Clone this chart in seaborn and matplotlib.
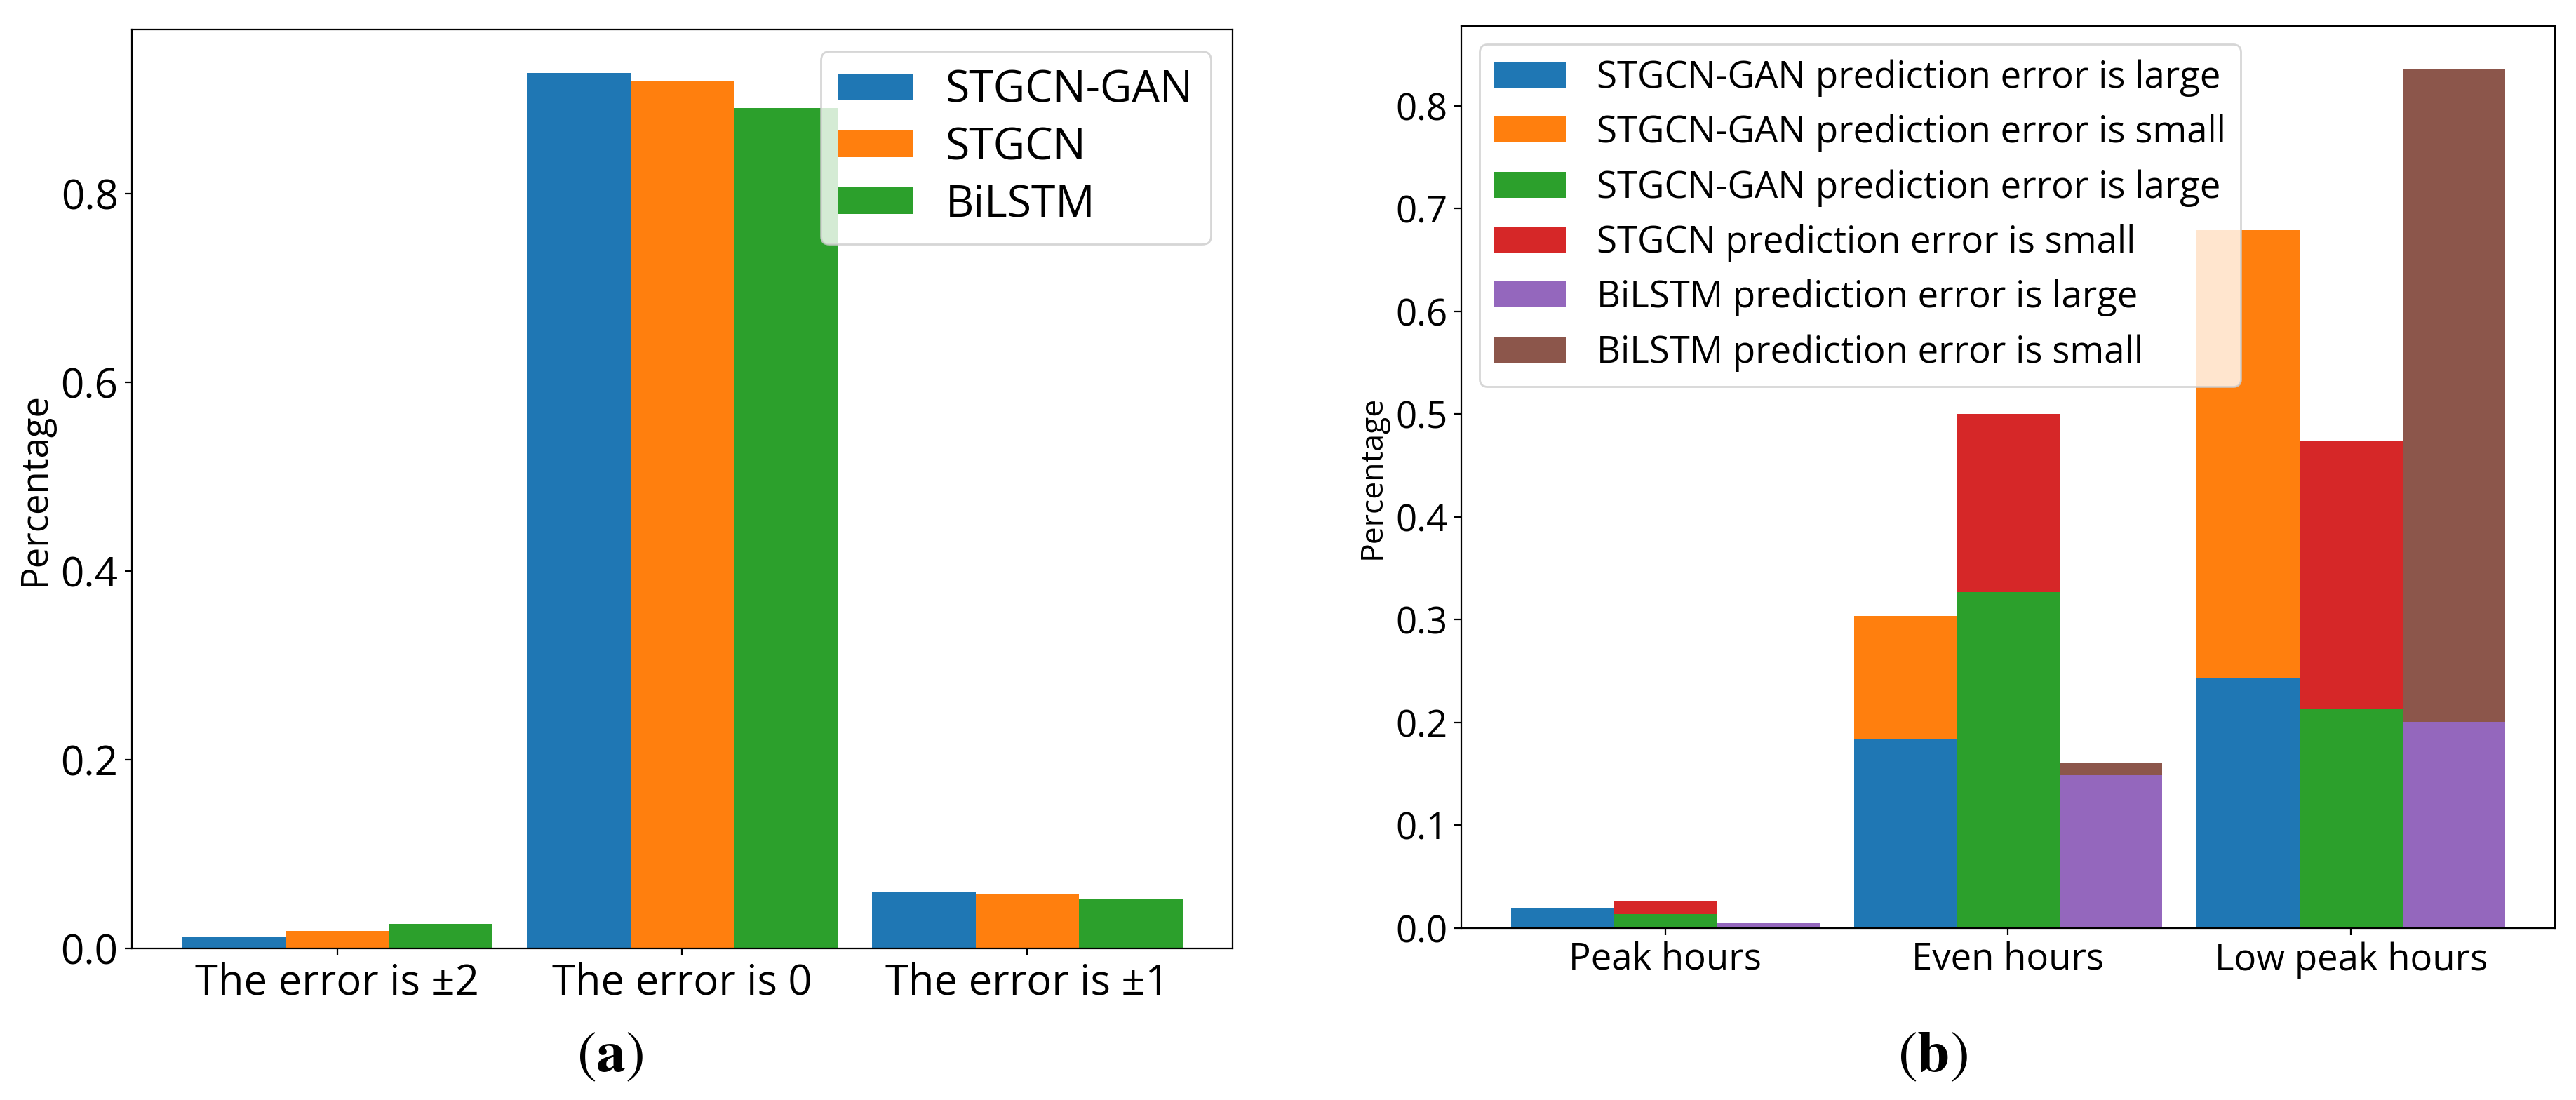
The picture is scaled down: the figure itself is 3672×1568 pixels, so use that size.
import numpy as np
import pandas as pd
import matplotlib
matplotlib.use("Agg")
import matplotlib.pyplot as plt
import seaborn as sns

# ---------------- data: panel (a) ----------------
error_cats = ["The error is ±2", "The error is 0", "The error is ±1"]
models_a = ["STGCN-GAN", "STGCN", "BiLSTM"]
gan_a = [0.0126, 0.928, 0.0595]
stgcn_a = [0.0186, 0.919, 0.058]
bilstm_a = [0.026, 0.891, 0.052]

# ---------------- data: panel (b) ----------------
hour_cats = ["Peak hours", "Even hours", "Low peak hours"]
models_b = ["STGCN-GAN", "STGCN", "BiLSTM"]
gan_large = [0.019, 0.184, 0.244]
gan_small = [0.0, 0.120, 0.435]
stgcn_large = [0.0136, 0.327, 0.213]
stgcn_small = [0.013, 0.173, 0.261]
bilstm_large = [0.005, 0.149, 0.201]
bilstm_small = [0.0, 0.012, 0.635]
legend_b = [
    "STGCN-GAN prediction error is large",
    "STGCN-GAN prediction error is small",
    "STGCN-GAN prediction error is large",
    "STGCN prediction error is small",
    "BiLSTM prediction error is large",
    "BiLSTM prediction error is small",
]

colors = ["#1f77b4", "#ff7f0e", "#2ca02c", "#d62728", "#9467bd", "#8c564b"]

plt.rcParams["font.family"] = ["Open Sans", "DejaVu Sans"]
plt.rcParams["mathtext.fontset"] = "stix"

W, H = 3673, 1568
fig = plt.figure(figsize=(W / 200, H / 200), dpi=200)

# axes placed from pixel measurements
ax1 = fig.add_axes([188 / W, (H - 1352) / H, 1569 / W, 1310 / H])
ax2 = fig.add_axes([2083 / W, (H - 1323) / H, 1559 / W, 1286 / H])

# ---------- panel (a) ----------
df_a = pd.DataFrame({
    "cat": error_cats * 3,
    "model": sum([[m] * 3 for m in models_a], []),
    "val": gan_a + stgcn_a + bilstm_a,
})
sns.barplot(data=df_a, x="cat", y="val", hue="model", order=error_cats,
            hue_order=models_a, palette=colors[:3], width=0.9, saturation=1,
            errorbar=None, legend=False, ax=ax1)
ax1.set_xlim(-0.595, 2.595)
ax1.set_ylim(0, 0.928 * 1.05)
ax1.set_yticks([0.0, 0.2, 0.4, 0.6, 0.8])
ax1.set_xlabel("")
ax1.set_ylabel("Percentage", fontsize=19)
ax1.yaxis.set_label_coords(-0.088, 0.5)
ax1.yaxis.label.set_va("center")
ax1.tick_params(axis="x", labelsize=21.5)
ax1.tick_params(axis="y", labelsize=21)
h1 = list(ax1.containers)
ax1.legend(h1, models_a, loc="upper right", fontsize=22.5,
           handlelength=1.7, handleheight=0.56, labelspacing=0.3,
           handletextpad=0.75)

# ---------- panel (b) ----------
tot_gan = [a + b for a, b in zip(gan_large, gan_small)]
tot_stgcn = [a + b for a, b in zip(stgcn_large, stgcn_small)]
tot_bilstm = [a + b for a, b in zip(bilstm_large, bilstm_small)]
df_tot = pd.DataFrame({
    "cat": hour_cats * 3,
    "model": sum([[m] * 3 for m in models_b], []),
    "val": tot_gan + tot_stgcn + tot_bilstm,
})
df_large = pd.DataFrame({
    "cat": hour_cats * 3,
    "model": sum([[m] * 3 for m in models_b], []),
    "val": gan_large + stgcn_large + bilstm_large,
})
sns.barplot(data=df_tot, x="cat", y="val", hue="model", order=hour_cats,
            hue_order=models_b, palette=[colors[1], colors[3], colors[5]],
            width=0.9, saturation=1, errorbar=None, legend=False, ax=ax2)
sns.barplot(data=df_large, x="cat", y="val", hue="model", order=hour_cats,
            hue_order=models_b, palette=[colors[0], colors[2], colors[4]],
            width=0.9, saturation=1, errorbar=None, legend=False, ax=ax2)
ax2.set_xlim(-0.595, 2.595)
ax2.set_ylim(0, max(tot_bilstm) * 1.05)
ax2.set_yticks([0.0, 0.1, 0.2, 0.3, 0.4, 0.5, 0.6, 0.7, 0.8])
ax2.set_xlabel("")
ax2.set_ylabel("Percentage", fontsize=16)
ax2.yaxis.set_label_coords(-0.0815, 0.5)
ax2.yaxis.label.set_va("center")
ax2.tick_params(axis="both", labelsize=19)
c = list(ax2.containers)
small_c, large_c = c[:3], c[3:]
h2 = [large_c[0], small_c[0], large_c[1], small_c[1], large_c[2], small_c[2]]
ax2.legend(h2, legend_b, loc="upper left", fontsize=19,
           handlelength=1.92, handleheight=0.7, labelspacing=0.47,
           handletextpad=0.83)

# captions, bottom edge placed from pixel measurement
fig.text(870 / W, 21 / H, r"$(\mathbf{a})$", ha="center",
         va="bottom", fontsize=30)
fig.text(2755 / W, 21 / H, r"$(\mathbf{b})$", ha="center",
         va="bottom", fontsize=30)

fig.savefig("out.png", dpi=200)
